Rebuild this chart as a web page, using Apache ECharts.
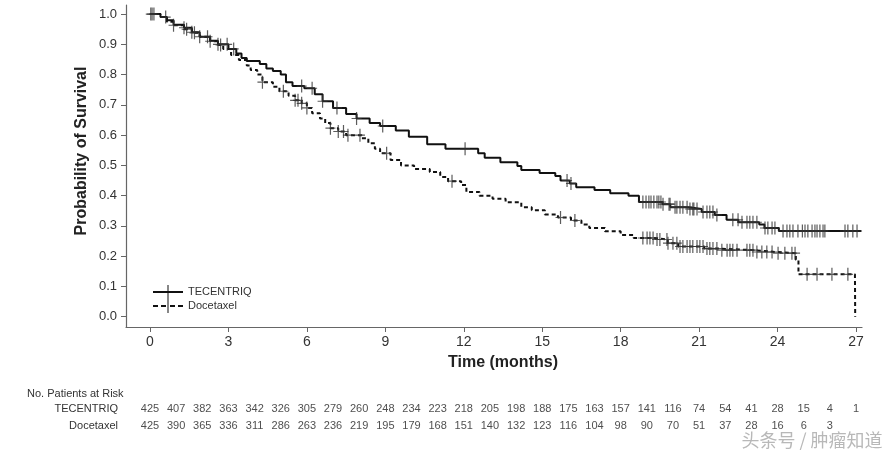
<!DOCTYPE html>
<html>
<head>
<meta charset="utf-8">
<script src="https://cdn.jsdelivr.net/npm/echarts@6/dist/echarts.min.js"></script>
<style>
html,body{margin:0;padding:0;background:#fff;}
#chart{width:891px;height:456px;}
</style>
</head>
<body>
<div id="chart"></div>
<script>
// ---- Data ----
const seriesNames = ['TECENTRIQ', 'Docetaxel'];
const xTicks = [0, 3, 6, 9, 12, 15, 18, 21, 24, 27];
const yTicks = [0, 0.1, 0.2, 0.3, 0.4, 0.5, 0.6, 0.7, 0.8, 0.9, 1.0];

// Kaplan-Meier steps: [month, survival after step]
const tecentriqSteps = [
  [0,1.0],[0.4,0.99],[0.65,0.98],[0.9,0.965],[1.3,0.955],[1.6,0.94],[1.9,0.925],[2.3,0.912],[2.6,0.9],
  [3.0,0.885],[3.3,0.87],[3.5,0.855],[3.7,0.845],[4.2,0.835],[4.45,0.82],[4.7,0.812],[5.0,0.8],[5.2,0.775],
  [5.45,0.762],[5.9,0.755],[6.3,0.735],[6.6,0.712],[7.0,0.69],[7.5,0.67],[7.9,0.655],[8.4,0.64],[8.8,0.63],
  [9.4,0.615],[9.9,0.595],[10.6,0.57],[11.3,0.555],[12.55,0.54],[12.8,0.525],[13.4,0.51],[14.05,0.498],
  [14.2,0.485],[14.9,0.475],[15.5,0.465],[15.7,0.45],[16.05,0.44],[16.3,0.428],[17.0,0.419],[17.6,0.408],
  [18.3,0.4],[18.7,0.379],[19.6,0.372],[19.9,0.362],[20.6,0.356],[21.1,0.346],[21.6,0.336],[22.05,0.32],
  [22.5,0.312],[23.3,0.305],[23.5,0.293],[24.05,0.283],[27.2,0.283]
];
const docetaxelSteps = [
  [0,1.0],[0.4,0.99],[0.65,0.975],[0.9,0.963],[1.3,0.95],[1.6,0.938],[1.9,0.925],[2.3,0.91],[2.6,0.898],
  [2.8,0.885],[3.1,0.865],[3.4,0.848],[3.7,0.83],[3.85,0.815],[4.1,0.8],[4.3,0.775],[4.7,0.76],[4.95,0.745],
  [5.3,0.73],[5.55,0.715],[5.8,0.705],[6.0,0.69],[6.2,0.672],[6.5,0.655],[6.7,0.64],[6.9,0.623],[7.2,0.612],
  [7.5,0.6],[8.1,0.59],[8.35,0.573],[8.6,0.555],[8.8,0.54],[9.2,0.518],[9.6,0.5],[10.1,0.488],[10.7,0.478],
  [11.1,0.462],[11.4,0.448],[11.9,0.435],[12.1,0.412],[12.6,0.4],[13.1,0.39],[13.6,0.378],[14.2,0.362],
  [14.6,0.352],[15.1,0.338],[15.6,0.328],[16.1,0.318],[16.5,0.305],[16.8,0.293],[17.4,0.282],[18.0,0.27],
  [18.5,0.26],[19.3,0.255],[19.8,0.243],[20.2,0.232],[21.2,0.225],[21.8,0.22],[23.1,0.214],[23.9,0.21],
  [24.7,0.188],[24.8,0.14],[26.96,0.14],[26.97,0.0]
];

// Censoring times (months)
const tecentriqCensor = [
  0.03,0.15,0.6,1.3,1.6,1.9,2.2,2.6,2.95,3.2,5.8,6.2,6.6,7.15,7.9,8.9,12.05,15.95,16.1,
  18.85,18.97,19.08,19.16,19.27,19.39,19.46,19.54,19.62,19.85,19.89,20.08,20.15,20.27,20.38,20.54,
  20.65,20.76,20.80,20.92,21.15,21.30,21.41,21.53,21.68,22.29,22.49,22.64,22.83,22.94,23.06,23.21,
  23.52,23.63,23.79,23.90,24.21,24.36,24.47,24.59,24.78,24.95,25.05,25.16,25.32,25.43,25.51,25.62,
  25.74,25.81,26.58,26.69,26.88,27.04
];
const docetaxelCensor = [
  0.08,0.9,1.4,1.7,2.3,2.7,4.3,5.1,5.55,5.66,5.8,6.0,6.9,7.2,7.4,7.57,8.03,9.05,11.55,15.7,16.25,
  18.85,19.01,19.12,19.24,19.39,19.50,19.77,19.81,20.0,20.15,20.27,20.38,20.54,20.65,20.76,20.92,
  21.03,21.15,21.30,21.41,21.53,21.68,21.87,22.07,22.18,22.29,22.45,22.83,22.94,23.06,23.21,23.40,
  23.59,23.79,24.02,24.28,24.55,24.67,25.13,25.51,26.08,26.69
];

// Numbers at risk (monthly from 0)
const riskMonths = [0,1,2,3,4,5,6,7,8,9,10,11,12,13,14,15,16,17,18,19,20,21,22,23,24,25,26,27];
const tecentriqRisk = [425,407,382,363,342,326,305,279,260,248,234,223,218,205,198,188,175,163,157,141,116,74,54,41,28,15,4,1];
const docetaxelRisk = [425,390,365,336,311,286,263,236,219,195,179,168,151,140,132,123,116,104,98,90,70,51,37,28,16,6,3];

// ---- Build ----
function survAt(steps, t) {
  let v = steps[0][1];
  for (const s of steps) { if (s[0] <= t) v = s[1]; else break; }
  return v;
}
const censorPts = (steps, times) => times.map(t => [t, survAt(steps, t)]);
function riskData(name, vals) {
  return vals.map((v, i) => [riskMonths[i], name, v]);
}

const plusSymbol = 'path://M4.4,0H5.6V6.4H10V7.6H5.6V14H4.4V7.6H0V6.4H4.4Z';
const iconSolid = 'path://M0,6H30V8H0Z M14.5,0H15.5V14H14.5Z';
const iconDash = 'path://M0,6H5V8H0Z M8,6H13V8H8Z M17,6H22V8H17Z M25,6H30V8H25Z M14.5,0H15.5V14H14.5Z';

const font = "'Liberation Sans', Arial, sans-serif";

const chart = echarts.init(document.getElementById('chart'), null, {renderer: 'canvas'});
chart.setOption({
  animation: false,
  backgroundColor: '#fff',
  textStyle: {fontFamily: font},
  grid: [
    {left: 126, right: 29, top: 5, bottom: 129},
    {left: 126, right: 29, top: 400, height: 35}
  ],
  legend: {
    orient: 'vertical', left: 153, top: 285, itemWidth: 30, itemHeight: 14, itemGap: 0,
    padding: 0, selectedMode: false,
    textStyle: {fontSize: 11, color: '#333', fontFamily: font},
    data: [
      {name: 'TECENTRIQ', icon: iconSolid, itemStyle: {color: '#111'}},
      {name: 'Docetaxel', icon: iconDash, itemStyle: {color: '#111'}}
    ]
  },
  xAxis: [{
    type: 'value', gridIndex: 0, min: -0.918, max: 27.23,
    axisLine: {show: true, onZero: false, lineStyle: {color: '#666', width: 1.2}},
    axisTick: {show: true, length: 5, customValues: xTicks, lineStyle: {color: '#666'}},
    axisLabel: {customValues: xTicks, fontSize: 14, color: '#333', margin: 8},
    splitLine: {show: false}
  }, {
    type: 'value', gridIndex: 1, min: -0.918, max: 27.23, show: false
  }],
  yAxis: [{
    type: 'value', gridIndex: 0, min: -0.034, max: 1.03,
    axisLine: {show: true, onZero: false, lineStyle: {color: '#666', width: 1.2}},
    axisTick: {show: true, length: 5, customValues: yTicks, lineStyle: {color: '#666'}},
    axisLabel: {customValues: yTicks, fontSize: 13, color: '#333', margin: 9, formatter: v => v.toFixed(1)},
    splitLine: {show: false}
  }, {
    type: 'category', gridIndex: 1, inverse: true, data: seriesNames,
    axisLine: {show: false}, axisTick: {show: false},
    axisLabel: {fontSize: 11, color: '#333', margin: 8}
  }],
  graphic: [
    {type: 'text', left: 27, top: 388, style: {text: 'No. Patients at Risk', font: '11px ' + font, fill: '#333'}},
    {type: 'text', x: 503, y: 363, style: {text: 'Time (months)', font: 'bold 16px ' + font, fill: '#222', textAlign: 'center', textVerticalAlign: 'middle'}},
    {type: 'text', x: 82, y: 151, rotation: Math.PI / 2, style: {text: 'Probability of Survival', font: 'bold 16px ' + font, fill: '#222', textAlign: 'center', textVerticalAlign: 'middle'}},
    {type: 'text', x: 812, y: 440, style: {text: '头条号 / 肿瘤知道', font: '18px "Noto Sans CJK SC"', fill: '#b8b8b8', textAlign: 'center', textVerticalAlign: 'middle'}}
  ],
  series: [
    {
      name: 'TECENTRIQ', type: 'line', step: 'end', xAxisIndex: 0, yAxisIndex: 0,
      data: tecentriqSteps, showSymbol: false, symbol: 'none',
      lineStyle: {color: '#111', width: 2}, itemStyle: {color: '#111'}, z: 3
    },
    {
      name: 'Docetaxel', type: 'line', step: 'end', xAxisIndex: 0, yAxisIndex: 0,
      data: docetaxelSteps, showSymbol: false, symbol: 'none',
      lineStyle: {color: '#111', width: 2, type: [4, 3]}, itemStyle: {color: '#111'}, z: 3
    },
    {
      name: 'TECENTRIQ', type: 'scatter', xAxisIndex: 0, yAxisIndex: 0,
      data: censorPts(tecentriqSteps, tecentriqCensor),
      symbol: plusSymbol, symbolSize: [10, 13], itemStyle: {color: '#333'}, z: 4
    },
    {
      name: 'Docetaxel', type: 'scatter', xAxisIndex: 0, yAxisIndex: 0,
      data: censorPts(docetaxelSteps, docetaxelCensor),
      symbol: plusSymbol, symbolSize: [10, 13], itemStyle: {color: '#333'}, z: 4
    },
    {
      name: 'risk', type: 'scatter', xAxisIndex: 1, yAxisIndex: 1,
      data: riskData('TECENTRIQ', tecentriqRisk).concat(riskData('Docetaxel', docetaxelRisk)),
      symbolSize: 2, itemStyle: {color: 'rgba(0,0,0,0)'}, silent: true,
      label: {show: true, position: 'inside', formatter: p => String(p.value[2]), fontSize: 11, color: '#222'}
    }
  ]
});
</script>
</body>
</html>
